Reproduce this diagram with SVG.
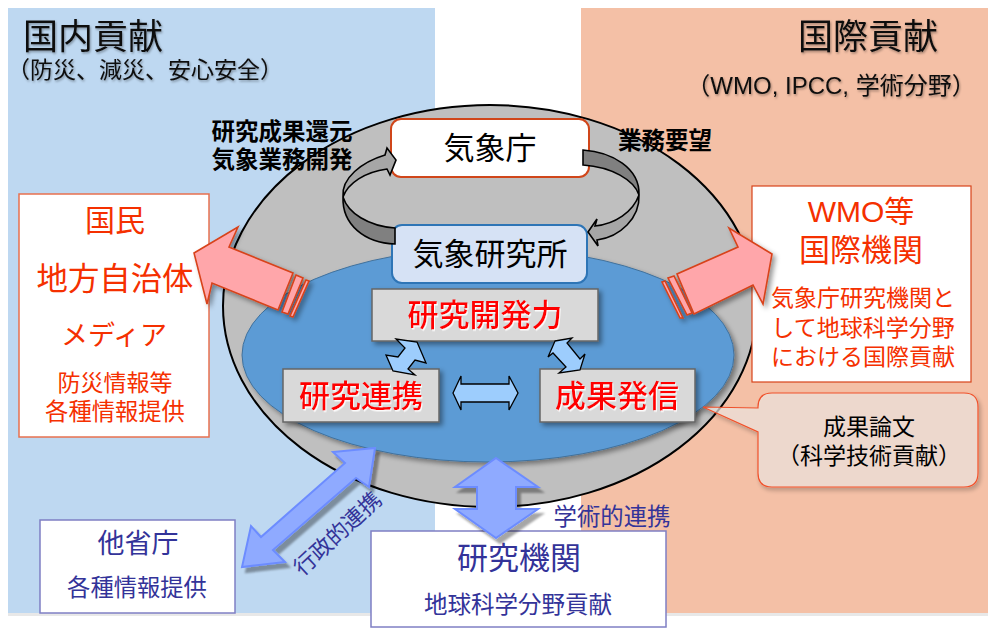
<svg xmlns="http://www.w3.org/2000/svg" width="989" height="633" viewBox="0 0 989 633">
<defs>
<filter id="sh" x="-20%" y="-20%" width="150%" height="150%"><feDropShadow dx="3" dy="3" stdDeviation="2.5" flood-color="#000" flood-opacity="0.4"/></filter>
<filter id="outer" x="-20%" y="-20%" width="150%" height="150%"><feGaussianBlur in="SourceAlpha" stdDeviation="2"/><feOffset dx="2" dy="3"/><feComponentTransfer><feFuncA type="linear" slope="0.3"/></feComponentTransfer><feComposite in2="SourceAlpha" operator="out" result="s"/><feMerge><feMergeNode in="s"/><feMergeNode in="SourceGraphic"/></feMerge></filter>
<filter id="hard" x="-20%" y="-20%" width="150%" height="150%"><feDropShadow dx="4" dy="5" stdDeviation="1" flood-color="#000" flood-opacity="0.35"/></filter>
<filter id="glow" x="-10%" y="-20%" width="120%" height="150%"><feDropShadow dx="1" dy="1.5" stdDeviation="0.7" flood-color="#fff" flood-opacity="0.9"/></filter>
<filter id="ts" x="-10%" y="-20%" width="120%" height="150%"><feDropShadow dx="1" dy="1.5" stdDeviation="1" flood-color="#000" flood-opacity="0.35"/></filter>
</defs>
<style>
text{font-family:"Noto Sans CJK JP","Noto Sans",sans-serif;text-anchor:middle;dominant-baseline:central}
.lat{font-family:"Liberation Sans","Noto Sans CJK JP",sans-serif}
.k{fill:#000}.r{fill:#f53000}.n{fill:#333399}
.h{fill:#111;filter:url(#ts)}
.red{fill:#f00;font-size:31px;font-weight:500;filter:url(#glow)}
.b{font-weight:700;font-size:23.5px;fill:#000}
.box{fill:#d9d9d9;stroke:#666;stroke-width:1.5;filter:url(#sh)}
.pink{fill:#ffa6aa;stroke:#d8431a;stroke-width:1.6}
.dbl{fill:#9dcdfd;stroke:#000;stroke-width:1.3}
.big{fill:#8faaff;stroke:#6c8cff;stroke-width:2;filter:url(#hard)}
.c1{fill:#808080;stroke:#000;stroke-width:1.6}
.c2{fill:#a6a6a6;stroke:#000;stroke-width:1.6}
</style>
<rect width="989" height="633" fill="#fff"/>
<g id="panels">
<rect x="8" y="8" width="427" height="605" fill="#bed8f1"/>
<rect x="581" y="8" width="407" height="605" fill="#f4c0a6"/>
<rect x="8" y="613" width="980" height="3" fill="#e8e8e8"/>
<text x="93" y="33" font-size="35" class="h">国内貢献</text>
<text x="145" y="68" font-size="23" class="h">（防災、減災、安心安全）</text>
<text x="868" y="33" font-size="35" class="h">国際貢献</text>
<text x="831" y="85" font-size="24" class="h lat">（WMO, IPCC, 学術分野）</text>
</g>
<g id="ellipses">
<ellipse cx="490" cy="306" rx="267" ry="201" fill="#bfbfbf" stroke="#000" stroke-width="2"/>
<ellipse cx="488" cy="355" rx="246" ry="107" fill="#5b9bd5" stroke="#41719c" stroke-width="1" filter="url(#sh)"/>
</g>
<text x="282" y="130" class="b">研究成果還元</text>
<text x="282" y="158" class="b">気象業務開発</text>
<text x="665" y="139" class="b">業務要望</text>
<text x="336" y="532" font-size="22" class="n" transform="rotate(-43 336 532)">行政的連携</text>
<text x="612" y="515" font-size="23.4" class="n">学術的連携</text>
<g id="jma"><rect x="391" y="119" width="198" height="58" rx="10" fill="#fff" stroke="#d0461a" stroke-width="2"/><text x="490" y="145" font-size="31" class="k">気象庁</text></g>
<g id="mri"><rect x="392" y="225" width="195" height="58" rx="10" fill="#d6e2f5" stroke="#2e75b6" stroke-width="2"/><text x="490" y="251" font-size="31" class="k">気象研究所</text></g>
<g id="rd"><rect x="372" y="289" width="226" height="52" class="box"/><text x="485" y="312" class="red">研究開発力</text></g>
<g id="collab"><rect x="283" y="369" width="156" height="53" class="box"/><text x="361" y="393" class="red">研究連携</text></g>
<g id="pub"><rect x="540" y="369" width="155" height="53" class="box"/><text x="617" y="393" class="red">成果発信</text></g>
<g id="public"><rect x="19" y="194" width="190" height="243" fill="#fff" stroke="#e8704f" stroke-width="1.5"/>
<text x="115" y="218" font-size="30" class="r">国民</text>
<text x="115" y="276" font-size="31.4" class="r">地方自治体</text>
<text x="114" y="333" font-size="27" class="r">メディア</text>
<text x="115" y="381" font-size="23" class="r">防災情報等</text>
<text x="115" y="410" font-size="23.3" class="r">各種情報提供</text></g>
<g id="wmo"><rect x="752" y="186" width="219" height="196" fill="#fff" stroke="#d8431a" stroke-width="1.2"/>
<text x="861" y="211" font-size="30" class="r lat">WMO等</text>
<text x="861" y="247" font-size="31" class="r">国際機関</text>
<text x="863" y="296" font-size="23" class="r">気象庁研究機関と</text>
<text x="863" y="326" font-size="23" class="r">して地球科学分野</text>
<text x="863" y="355" font-size="23" class="r">における国際貢献</text></g>
<g id="callout"><path d="M772,393H964Q978,393 978,407V473Q978,487 964,487H772Q758,487 758,473V432L703,407L758,408V407Q758,393 772,393Z" fill="#ede4de" fill-opacity="0.7" stroke="#f0502a" stroke-width="1.2" filter="url(#outer)"/>
<text x="869" y="425" font-size="23" class="k">成果論文</text>
<text x="869" y="454" font-size="23" class="k">（科学技術貢献）</text></g>
<g id="ministries"><rect x="40" y="520" width="195" height="93" fill="#fff" stroke="#7f7fc4" stroke-width="1.5"/>
<text x="138" y="541" font-size="27" class="n">他省庁</text>
<text x="137" y="586" font-size="23.3" class="n">各種情報提供</text></g>
<g id="institutes"><rect x="371" y="531" width="295" height="96" fill="#fff" stroke="#7f7fc4" stroke-width="1.5"/>
<text x="519" y="555" font-size="31" class="n">研究機関</text>
<text x="518" y="603" font-size="23.5" class="n">地球科学分野貢献</text></g>
<g id="connectors">
<path class="c1" d="M395,228C368,226 348,213 343,197C342,225 365,243 395,244Z"/>
<path class="c2" d="M343,197C341,178 362,162 385,155L387,148L396,160L390,175L387,169C365,172 348,183 343,197Z"/>
<path class="c1" d="M583,150C612,152 640,168 639,195C634,180 612,167 583,165Z"/>
<path class="c2" d="M639,195C640,218 620,237 597,240L598,246L588,232L597,219L595,226C615,224 633,212 639,195Z"/>
<g filter="url(#sh)">
<path class="pink" d="M194,253L238,227L229,247L293,273L278,310L212,283L207,304Z"/>
<path class="pink" d="M296,275L303,278L288,314L282,312Z"/>
<path class="pink" d="M306,280L309,281L293,317L290,316Z"/>
<path class="pink" d="M772,254L729,228L738,247L677,274L694,314L753,285L763,304Z"/>
<path class="pink" d="M668,278L674,276L692,313L687,315Z"/>
<path class="pink" d="M662,282L665,281L683,318L680,318Z"/>
</g>
<path class="dbl" d="M417,342L426,363L415,360L408,369L415,375L393,371L386,355L398,357L405,348L396,339Z"/>
<path class="dbl" d="M555,341L572,338L567,343L580,359L585,354L580,370L559,373L566,367L553,353L548,357Z"/>
<path class="dbl" d="M453,393L461,376V384H509V376L518,393L509,410V402H461V410Z"/>
<path class="big" d="M375,448L333,452L345,463L261,537L251,526L242,567L285,562L273,550L356,478L369,487Z"/>
<path class="big" d="M496,458L538,487H516V509H538L496,538L455,509H477V487H455Z"/>
</g>
</svg>
